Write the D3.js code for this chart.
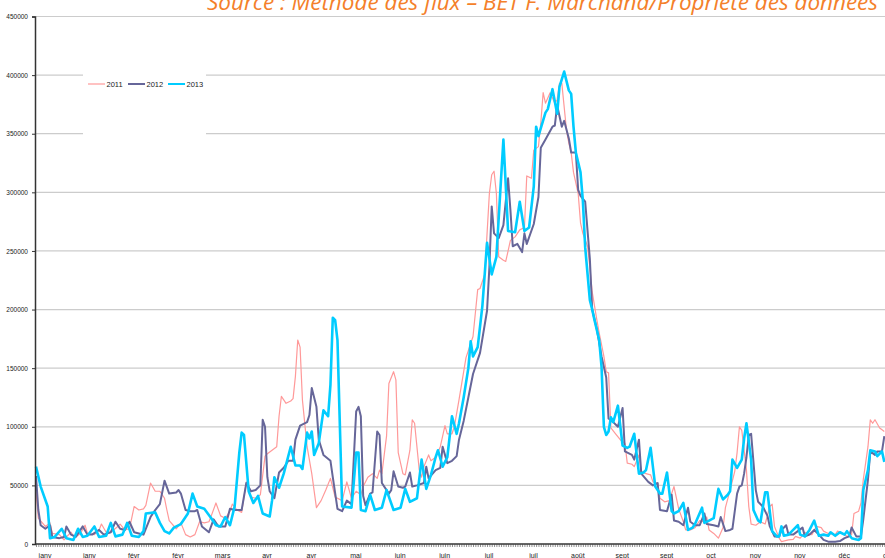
<!DOCTYPE html>
<html lang="fr">
<head>
    <meta charset="UTF-8">
    <title>Fréquentation journalière 2011-2013</title>
    <script src="https://d3js.org/d3.v7.min.js"></script>
    <style>
        body { margin: 0; background: #fff; }
        .source {
            font-family: "Open Sans", sans-serif;
            font-style: italic;
            font-size: 21px;
            fill: #f4802a;
        }
        .petit {
            font-family: "Liberation Sans", Arial, sans-serif;
            fill: #222;
        }
    </style>
</head>
<body>
<svg width="885" height="558"></svg>

<script>
    // jours de l'année (0 = 1er janvier) et valeurs en milliers
    const days2011 = [0,1,4,6,7,10,12,13,15,16, 17,19,21,22,25,27,28,30,32,35, 36,38,40,42,44,46,47,49,51,53,
        55,56,57,60,62,64,66,68,70,72, 74,75,77,79,81,83,84,86,88,90, 92,94,96,98,99,101,103,104,105,107,
        109,110,111,112,113,114,116,118,120,122, 124,126,128,129,131,133,135,137,139,140, 142,144,146,147,148,150,151,153,154,155,
        157,158,160,161,162,164,165,166,168,169, 171,173,174,175,176,178,179,181,184,187, 189,190,192,194,195,196,197,198,200,201,
        203,205,207,209,210,212,213,215,216,217, 218,220,222,223,224,225,227,228,229,230, 232,233,234,236,237,238,240,241,243,244,
        245,246,248,250,252,253,255,256,258,259, 261,263,264,266,267,269,271,273,275,277, 278,280,282,284,285,287,288,290,292,294,
        295,297,299,300,301,302,304,305,306,308, 310,312,314,315,316,318,319,322,324,325, 327,329,330,332,334,336,337,339,342,343,
        345,347,349,350,352,353,354,356,357,358, 359,361,363];
    const vals2011 = [45,22,15,18,9,8,3.5,6,10,7, 6,9,16,9,8,12,17,10,10,15, 17,12,13,32,29,30,33,52,45,45,
        39,29,20,13,18,8,6,8,19,18, 19,24,35,24,22,28,34,29,27,53, 40,39,42,75,77,80,83,109,126,120,
        122,124,143,174,168,123,83,60,31,37, 46,56,40,39,37,53,39,45,42,49, 57,60,56,63,60,92,137,147,140,78,
        60,59,80,106,103,63,57,66,76,71, 74,83,92,101,94,94,100,123,159,177, 217,218,230,299,315,318,299,245,242,241,
        259,262,268,270,314,312,336,339,359,385, 376,385,376,379,393,393,353,342,334,317, 299,274,265,254,236,215,191,180,160,147,
        146,99,94,89,86,69,68,66,76,62, 60,59,53,52,39,36,37,49,30,19, 12,12,14,20,19,23,12,9,5,14,
        31,46,62,78,100,97,63,32,17,16, 19,17,32,34,15,5,2,3.5,4,6.5, 5,10,9,8,15,14,11,9,8,11,
        9,6.5,8,26,28,35,55,83,106,103, 106,99,96];

    const days2012 = [0,1,2,4,6,7,10,12,13,15, 17,20,22,24,27,29,32,34,36,38, 40,42,44,46,49,51,53,55,57,60,
        61,62,64,66,68,69,71,74,76,78, 81,83,85,88,90,92,94,96,97,98, 99,100,102,104,106,108,110,111,113,116,
        117,118,120,121,123,126,127,129,131,133, 135,137,138,139,140,141,143,144,146,147, 148,151,152,153,155,157,158,160,161,163,
        166,167,168,171,173,174,176,178,180,181, 183,185,187,190,193,194,195,196,198,200, 202,203,204,206,208,209,210,213,215,216,
        218,221,222,223,225,226,228,229,231,232, 233,235,237,238,240,242,244,245,247,249, 251,252,255,256,258,259,262,264,266,267,
        270,272,273,275,277,279,280,282,284,286, 287,290,292,293,295,297,298,300,301,302, 303,304,305,306,308,309,311,313,314,316,
        318,319,321,322,324,326,328,329,331,333, 335,337,339,342,344,346,348,349,351,353, 354,356,357,359,360,362,363];
    const vals2012 = [58,29,16,13,16,6,5,6,15,8, 6,15,8,8,12,8,10,19,13,12, 19,10,9,8,23,29,34,54,43,44,
        46,43,29,28,28,29,15,10,21,15, 15,30,29,29,52,45,46,50,106,100, 57,45,39,61,65,71,71,89,101,104,
        110,133,117,89,76,71,57,30,28,37, 34,113,117,109,41,33,43,44,96,93, 52,43,46,62,49,48,49,61,49,50,
        52,66,56,63,65,83,69,71,75,89, 105,125,145,163,199,236,288,265,261,272, 312,285,254,256,249,265,256,273,296,338,
        345,356,357,374,356,361,346,334,334,302, 297,292,243,200,183,160,142,107,104,100, 116,79,76,72,89,60,53,50,52,29,
        28,42,20,19,16,31,19,16,16,26, 17,16,15,23,11,12,13,43,49,50, 60,74,93,94,46,36,32,24,15,6.5,
        6.5,12,16,8,8,11,14,6.5,8,12, 8,3.5,2,2,2.5,5,6.5,14,6.5,6.5, 21,55,79,76,79,79,92];

    const days2013 = [0,2,5,6,8,11,13,16,18,20, 22,25,27,30,32,34,37,39,41,44, 46,47,51,53,55,57,59,62,65,67,
        69,72,75,77,79,81,83,85,87,88, 89,91,93,95,97,100,101,102,104,106, 109,111,113,114,116,117,118,119,121,123,
        125,126,127,128,129,131,135,136,137,138, 139,141,143,145,148,150,153,156,158,160, 163,165,167,169,171,172,174,176,178,180,
        181,183,185,186,187,189,191,193,195,197, 200,202,205,207,209,211,213,214,215,218, 219,221,223,224,226,228,229,230,231,233,
        234,235,237,238,239,241,242,243,244,245, 246,247,249,251,253,254,256,258,260,261, 263,265,267,268,270,272,273,275,277,279,
        281,282,285,286,288,290,292,294,296,297, 298,300,302,303,304,306,307,309,310,312, 313,315,317,318,319,320,322,324,326,327,
        329,331,333,335,337,339,340,342,344,346, 347,349,352,353,354,356,357,359,360,362, 363];
    const vals2013 = [66,49,32,5,6,13,5,3.5,13,6, 7,15,6,7,18,6.5,8,18,7,6, 11,26,27,18,11,9,14,17,26,43,
        32,30,22,16,15,23,16,32,78,95, 93,45,35,41,26,23.5,37,57,48,60, 83,67,67,64,95,90,96,76,86,114,
        109,136,193,191,174,32,31,53,78,78, 29,28,42,29,31,46,29,31,47,36, 39,72,47,59,74,80,66,74,109,94,
        103,125,150,173,160,168,203,257,230,245, 345,267,266,292,267,270,305,356,348,368, 371,388,367,390,403,387,384,356,334,317,
        293,253,208,200,191,174,151,100,93,96, 108,104,118,84,82,83,94,60,61,63, 82,49,43,43,61,28,26,28,35,12,
        14,17,31,18,20,22,47,38,42,45, 72,65,72,90,103,72,29,20,18.5,44, 44,11,6.5,6.5,15,7,8,12,16,8,
        6.5,12,20,7,8,7,10,7,10,8, 11,5,3.5,5,46,63,80,79,75,79, 70];

    const yTicks = [0, 50, 100, 150, 200, 250, 300, 350, 400, 450];
    const monthLabels = ["janv", "janv", "févr", "févr", "mars", "avr", "avr", "mai", "juin", "juin",
        "juil", "juil", "août", "sept", "sept", "oct", "nov", "nov", "déc", "déc"];
    const labelDays = d3.range(0, 366, 19);
    const years = ["2011", "2012", "2013"];
    const colors = ["#ff9999", "#666699", "#00ccff"];
    const widths = [1.2, 2, 2.6];

    const x = d3.scaleLinear().domain([0, 365]).range([36, 889]);
    const y = d3.scaleLinear().domain([0, 450]).range([544, 16.5]);
    const svg = d3.select("svg");

    // grille horizontale
    svg.append("g")
        .selectAll("line")
        .data(yTicks.slice(1))
        .enter()
        .append("line")
        .attr("x1", 35)
        .attr("x2", 885)
        .attr("y1", function (d) { return y(d); })
        .attr("y2", function (d) { return y(d); })
        .attr("stroke", "#cccccc")
        .attr("stroke-width", 1.2);

    // fond de la légende
    svg.append("rect")
        .attr("x", 83).attr("y", 66)
        .attr("width", 123).attr("height", 72)
        .attr("fill", "#fff");

    // courbes
    const series = [
        {days: days2011, vals: vals2011},
        {days: days2012, vals: vals2012},
        {days: days2013, vals: vals2013}
    ];
    const line = d3.line()
        .x(function (d) { return x(d[0]); })
        .y(function (d) { return y(d[1]); });

    series.forEach(function (s, k) {
        svg.append("path")
            .datum(s.days.map(function (d, i) { return [d, s.vals[i]]; }))
            .attr("d", line)
            .attr("fill", "none")
            .attr("stroke", colors[k])
            .attr("stroke-width", widths[k])
            .attr("stroke-linejoin", "round");
    });

    // axe Y
    const yAxis = svg.append("g")
        .attr("transform", "translate(35,0)")
        .call(d3.axisLeft(y).tickValues(yTicks).tickSize(3).tickPadding(4)
            .tickFormat(function (d) { return d * 1000; }));
    yAxis.select(".domain").attr("stroke", "#333").attr("stroke-width", 1.5);
    yAxis.selectAll(".tick line").attr("stroke", "#333");
    yAxis.selectAll("text").attr("class", "petit").style("font-size", "6.5px");

    // axe X : une graduation par jour
    const xAxis = svg.append("g")
        .attr("transform", "translate(0,544)")
        .call(d3.axisBottom(x).tickValues(d3.range(0, 366)).tickSize(3).tickFormat(""));
    xAxis.select(".domain").attr("d", "M35,0H885").attr("stroke", "#333").attr("stroke-width", 1.5);
    xAxis.selectAll(".tick line").attr("stroke", "#444").attr("stroke-width", 0.6);

    svg.append("g")
        .selectAll("text")
        .data(labelDays)
        .enter()
        .append("text")
        .attr("class", "petit")
        .attr("x", function (d) { return x(d) + 9; })
        .attr("y", 557.5)
        .attr("text-anchor", "middle")
        .style("font-size", "7px")
        .text(function (d, i) { return monthLabels[i]; });

    // légende
    const leg = svg.append("g")
        .selectAll("g")
        .data(years)
        .enter()
        .append("g")
        .attr("transform", function (d, i) { return "translate(" + (88 + i * 40) + ",84)"; });
    leg.append("line")
        .attr("x1", 0).attr("x2", 17)
        .attr("stroke", function (d, i) { return colors[i]; })
        .attr("stroke-width", function (d, i) { return i === 0 ? 1.2 : 2; });
    leg.append("text")
        .attr("class", "petit")
        .attr("x", 18.5)
        .attr("y", 2.7)
        .style("font-size", "7.5px")
        .text(function (d) { return d; });

    // source
    svg.append("text")
        .attr("class", "source")
        .attr("x", 207)
        .attr("y", 10)
        .attr("textLength", 671)
        .attr("lengthAdjust", "spacingAndGlyphs")
        .text("Source : Méthode des flux – BET F. Marchand/Propriété des données");
</script>
</body>
</html>
